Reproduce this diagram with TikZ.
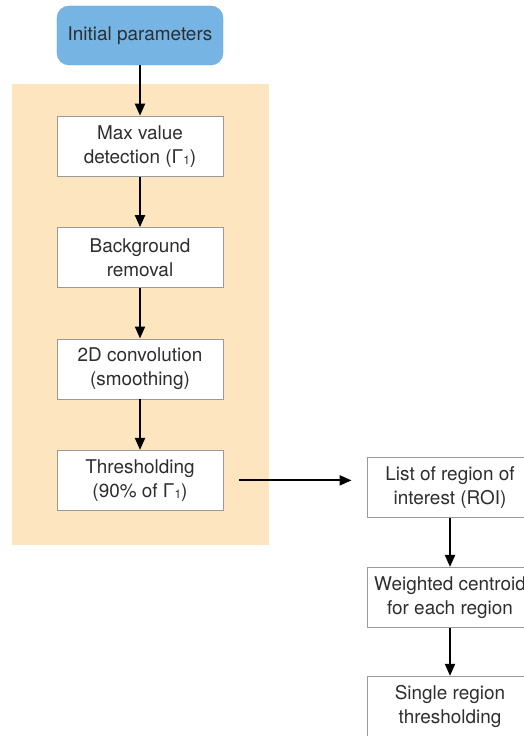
\documentclass[tikz,border=0pt]{standalone}
\usepackage{fontspec}
\setmainfont{TeX Gyre Heros}
\usetikzlibrary{positioning,arrows.meta}
\definecolor{startblue}{HTML}{76B4E4}
\definecolor{startedge}{HTML}{68A6DA}
\definecolor{stagebg}{HTML}{FDE6BF}
\definecolor{boxedge}{HTML}{9A9A9A}
\definecolor{txtgray}{HTML}{2E2E2E}
\tikzset{
start/.style={draw=startedge,fill=startblue,rounded corners=12bp,minimum width=166bp,minimum height=59bp,inner sep=0pt,text=txtgray},
stepbox/.style={draw=boxedge,line width=0.9bp,fill=white,minimum width=166bp,minimum height=60bp,inner sep=0pt,align=center,text=txtgray},
stagezone/.style={fill=stagebg},
flowarrow/.style={-{Triangle[length=12bp,width=10bp]},line width=2bp,black}
}
\newcommand{\gsub}{Γ{\fontsize{12}{12}\selectfont\raisebox{-1.5bp}{1}}}

\begin{document}
\begin{tikzpicture}[x=1bp,y=-1bp,node distance=50.5bp,every node/.style={font=\fontsize{19}{24}\selectfont}]
\useasboundingbox (0,0) rectangle (524,736);
% detection stage
\fill[stagezone] (12,84) rectangle (269,545);
\node[start] (init) at (140,35.5) {Initial parameters};
\node[stepbox,below=of init] (maxval) {Max value\\detection (\gsub)};
\node[stepbox,below=of maxval] (bgrem) {Background\\removal};
\node[stepbox,below=of bgrem] (conv) {2D convolution\\(smoothing)};
\node[stepbox,below=of conv] (thresh) {Thresholding\\(90\% of \gsub)};
% per-region processing
\node[stepbox] (roi) at (450,487.5) {List of region of\\interest (ROI)};
\node[stepbox,below=49bp of roi] (centroid) {Weighted centroid\\for each region};
\node[stepbox,below=48bp of centroid] (single) {Single region\\thresholding};
\draw[flowarrow] (init) -- (maxval);
\draw[flowarrow] (maxval) -- (bgrem);
\draw[flowarrow] (bgrem) -- (conv);
\draw[flowarrow] (conv) -- (thresh);
\draw[flowarrow,shorten <=16bp,shorten >=15bp] (thresh.east) -- (thresh.east -| roi.west);
\draw[flowarrow] (roi) -- (centroid);
\draw[flowarrow] (centroid) -- (single);
\end{tikzpicture}
\end{document}
